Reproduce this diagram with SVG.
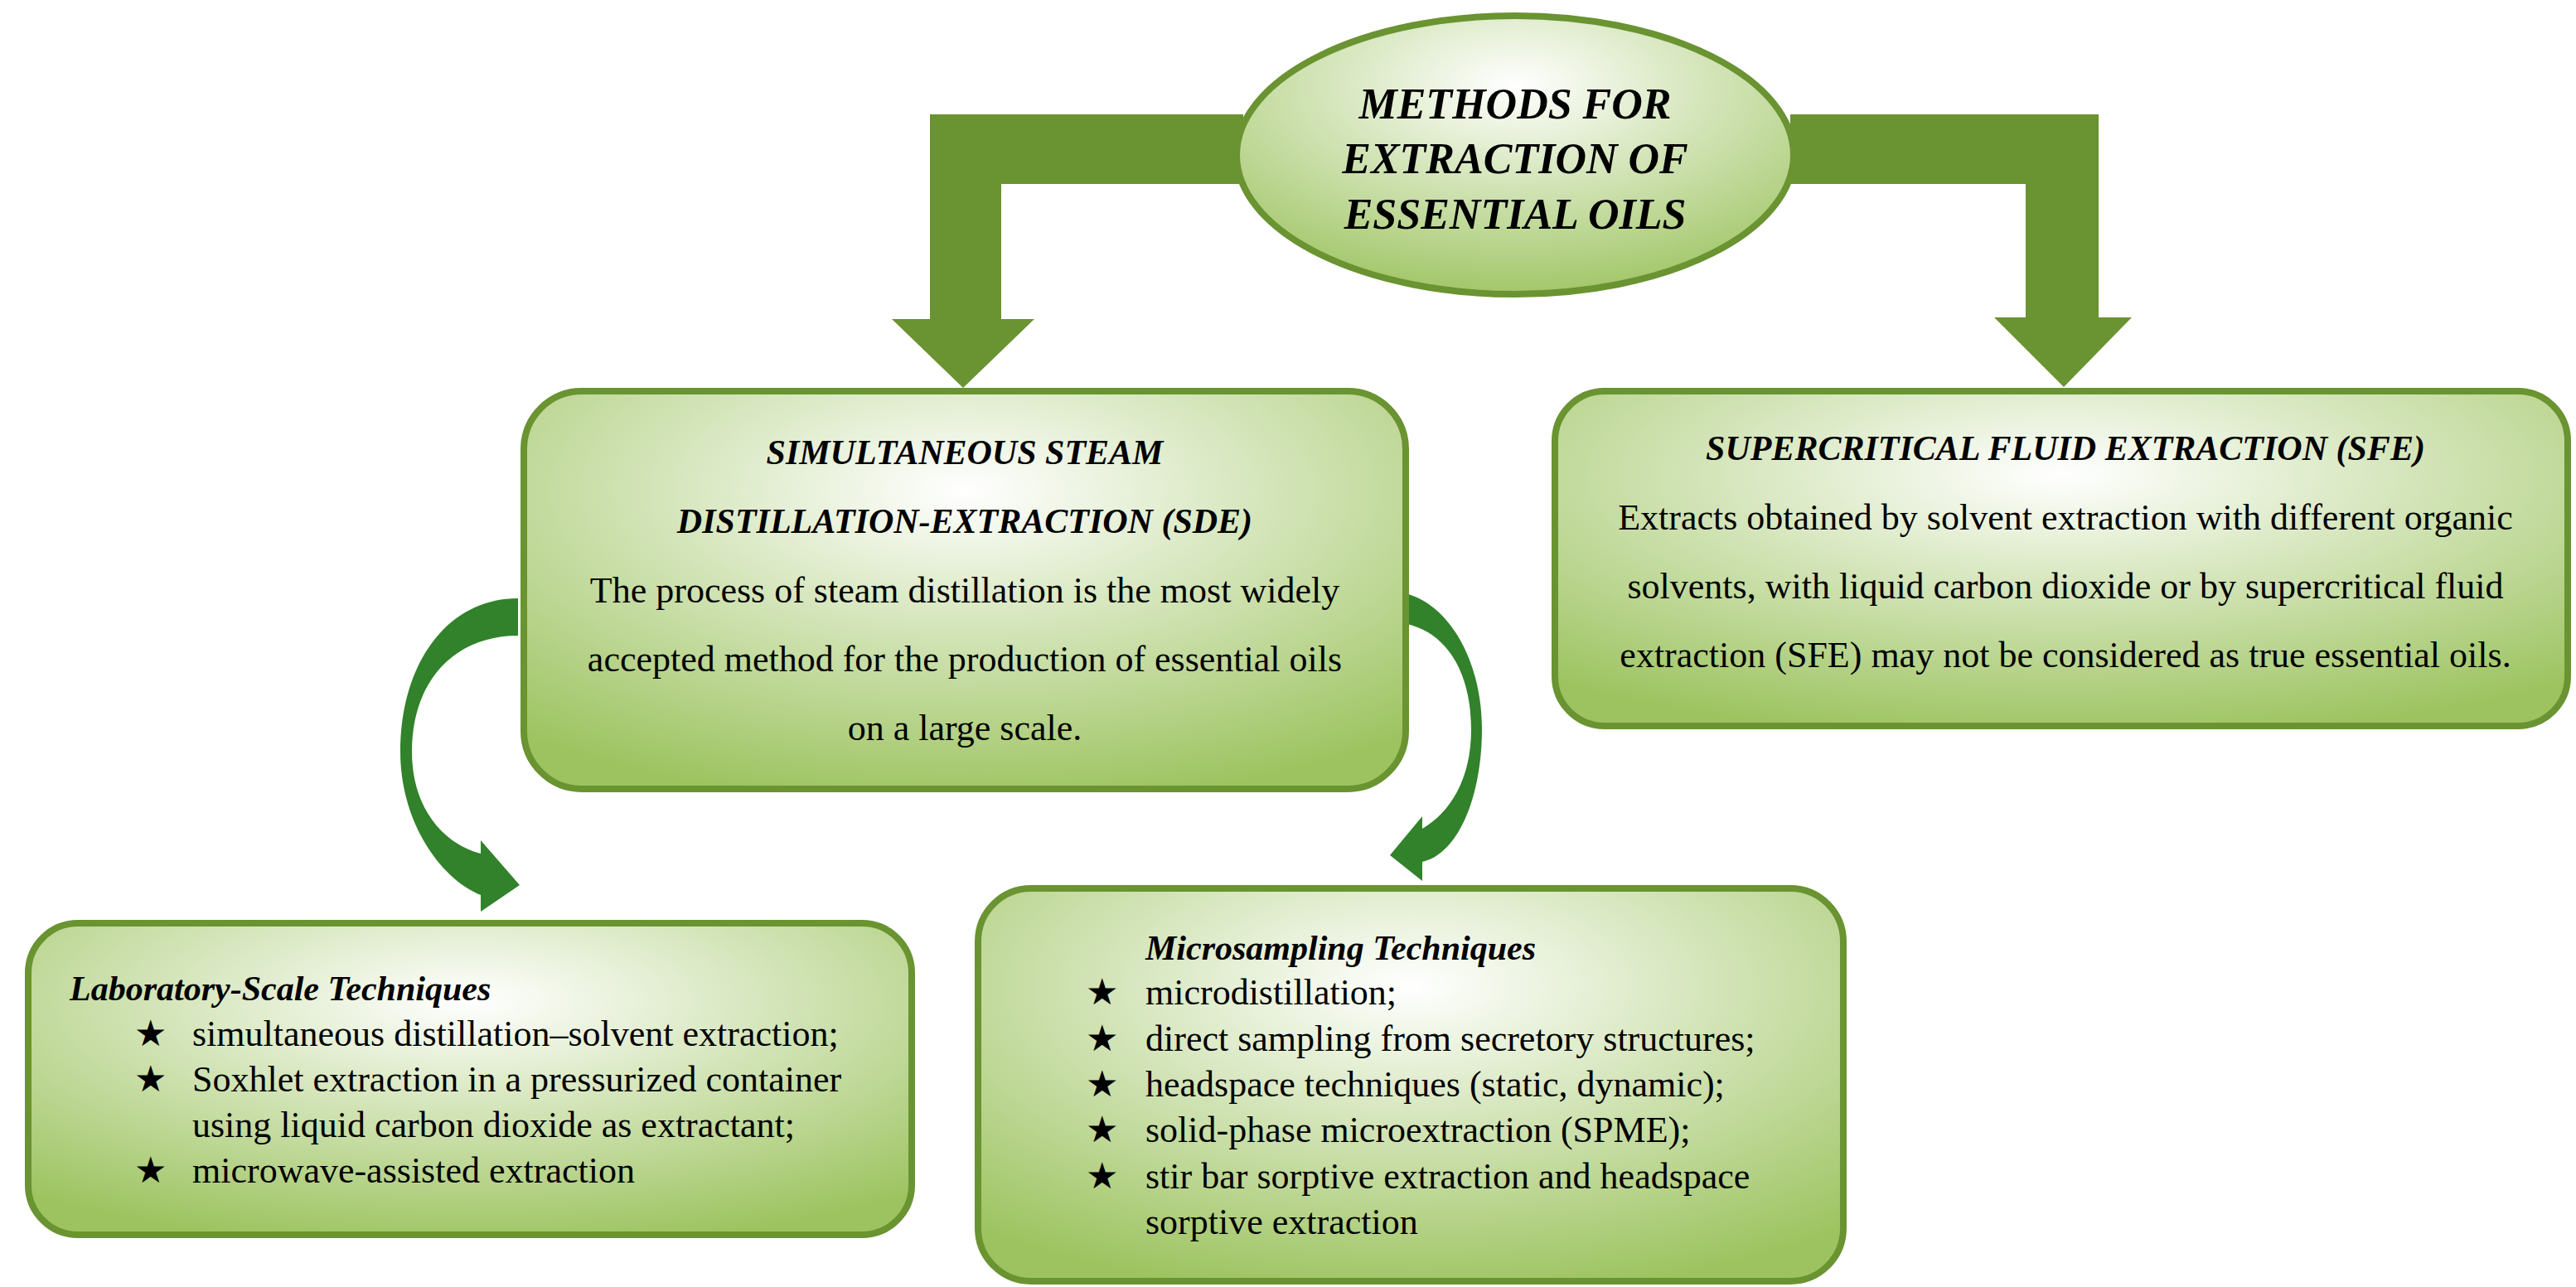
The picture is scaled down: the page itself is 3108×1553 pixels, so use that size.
<svg xmlns="http://www.w3.org/2000/svg" width="3108" height="1553" viewBox="0 0 3108 1553">
<defs>
<radialGradient id="g" cx="0.5" cy="0.25" r="0.8">
<stop offset="0" stop-color="#ffffff"/>
<stop offset="1" stop-color="#9cc35f"/>
</radialGradient>
<style>
.box{fill:url(#g);stroke:#6a9331;stroke-width:8}
.bar{fill:#6a9331}
.cur{fill:#31822a}
.t{font-family:"Liberation Serif",serif;fill:#000;font-size:44px}
.h{font-style:italic;font-weight:bold;font-size:42px}
.e{font-size:52px}
</style>
</defs>
<g id="connectors">
<path class="bar" d="M1500,138 L1122,138 L1122,385 L1076,385 L1162,468 L1248,385 L1208,385 L1208,222 L1500,222 Z"/>
<path class="bar" d="M2160,138 L2532,138 L2532,383 L2572,383 L2490,467 L2406,383 L2444,383 L2444,222 L2160,222 Z"/>
<path class="cur" d="M625,722 C540,722 483,800 483,907 C483,990 530,1060 580,1080 L580,1100 L627,1068 L580,1014 L580,1030 C540,1020 497,980 497,907 C497,820 550,767 625,767 Z"/>
<path class="cur" d="M1678,714 C1740,714 1788,790 1788,880 C1788,960 1760,1030 1716,1040 L1716,1063 L1677,1032 L1716,985 L1716,1000 C1750,980 1775,940 1775,880 C1775,800 1735,751 1678,751 Z"/>
</g>
<g id="root">
<ellipse class="box" cx="1828" cy="187" rx="336" ry="168"/>
<text class="t h e" text-anchor="middle" x="1828" y="143">METHODS FOR</text>
<text class="t h e" text-anchor="middle" x="1828" y="209">EXTRACTION OF</text>
<text class="t h e" text-anchor="middle" x="1828" y="276">ESSENTIAL OILS</text>
</g>
<g id="sde">
<rect class="box" x="632" y="472" width="1064" height="480" rx="70"/>
<text class="t h" text-anchor="middle" x="1164" y="560">SIMULTANEOUS STEAM</text>
<text class="t h" text-anchor="middle" x="1164" y="643">DISTILLATION-EXTRACTION (SDE)</text>
<text class="t" text-anchor="middle" x="1164" y="727">The process of steam distillation is the most widely</text>
<text class="t" text-anchor="middle" x="1164" y="810">accepted method for the production of essential oils</text>
<text class="t" text-anchor="middle" x="1164" y="893">on a large scale.</text>
</g>
<g id="sfe">
<rect class="box" x="1876" y="472" width="1222" height="404" rx="60"/>
<text class="t h" text-anchor="middle" x="2492" y="555">SUPERCRITICAL FLUID EXTRACTION (SFE)</text>
<text class="t" text-anchor="middle" x="2492" y="639">Extracts obtained by solvent extraction with different organic</text>
<text class="t" text-anchor="middle" x="2492" y="722">solvents, with liquid carbon dioxide or by supercritical fluid</text>
<text class="t" text-anchor="middle" x="2492" y="805">extraction (SFE) may not be considered as true essential oils.</text>
</g>
<g id="lab">
<rect class="box" x="34" y="1114" width="1066" height="376" rx="60"/>
<text class="t h" x="84" y="1207">Laboratory-Scale Techniques</text>
<text class="t" x="162" y="1262">★</text><text class="t" x="232" y="1262">simultaneous distillation–solvent extraction;</text>
<text class="t" x="162" y="1317">★</text><text class="t" x="232" y="1317">Soxhlet extraction in a pressurized container</text>
<text class="t" x="232" y="1372">using liquid carbon dioxide as extractant;</text>
<text class="t" x="162" y="1427">★</text><text class="t" x="232" y="1427">microwave-assisted extraction</text>
</g>
<g id="micro">
<rect class="box" x="1180" y="1072" width="1044" height="474" rx="64"/>
<text class="t h" x="1382" y="1158">Microsampling Techniques</text>
<text class="t" x="1310" y="1212">★</text><text class="t" x="1382" y="1212">microdistillation;</text>
<text class="t" x="1310" y="1268">★</text><text class="t" x="1382" y="1268">direct sampling from secretory structures;</text>
<text class="t" x="1310" y="1323">★</text><text class="t" x="1382" y="1323">headspace techniques (static, dynamic);</text>
<text class="t" x="1310" y="1378">★</text><text class="t" x="1382" y="1378">solid-phase microextraction (SPME);</text>
<text class="t" x="1310" y="1434">★</text><text class="t" x="1382" y="1434">stir bar sorptive extraction and headspace</text>
<text class="t" x="1382" y="1489">sorptive extraction</text>
</g>
</svg>
